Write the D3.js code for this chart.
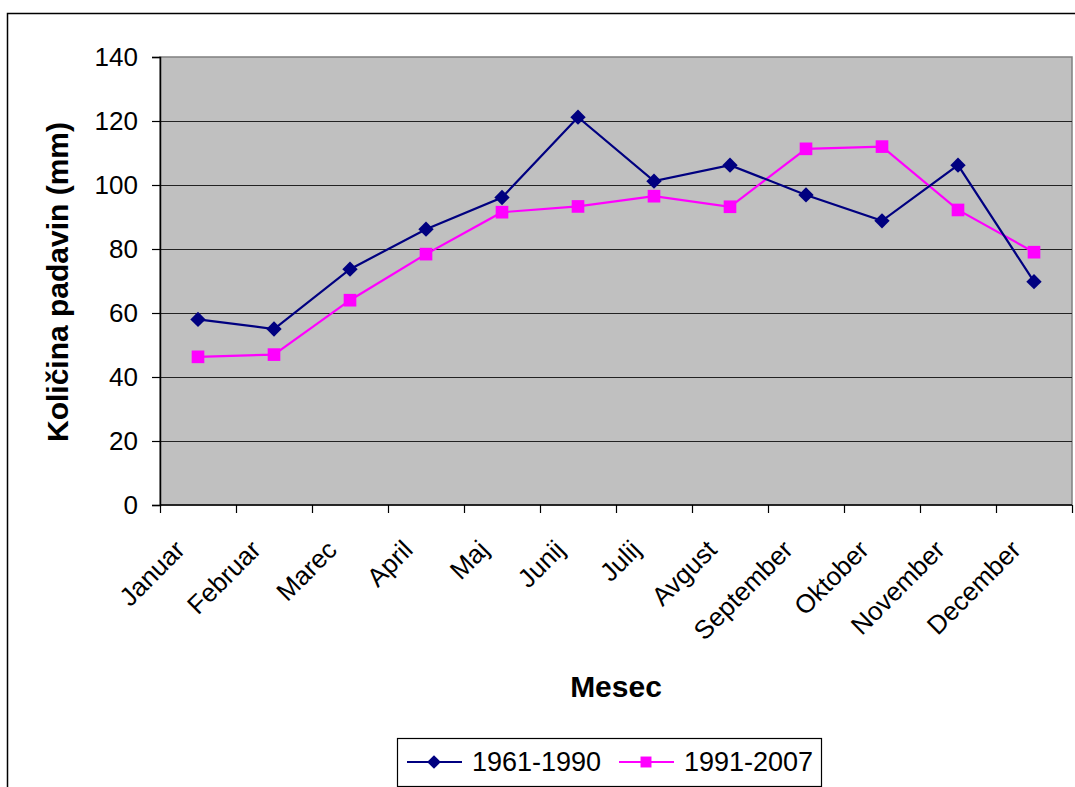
<!DOCTYPE html>
<html>
<head>
<meta charset="utf-8">
<script src="https://cdn.jsdelivr.net/npm/d3@7"></script>
<style>
  html, body { margin: 0; padding: 0; background: #fff; }
  svg { display: block; font-family: "Liberation Sans", Arial, sans-serif; }
</style>
</head>
<body>
<svg id="chart" width="1075" height="787"></svg>
<script>
// Monthly precipitation, two reference periods
const months = ["Januar", "Februar", "Marec", "April", "Maj", "Junij", "Julij",
                "Avgust", "September", "Oktober", "November", "December"];
const series1961 = [58, 55, 73.7, 86.2, 96.1, 121.2, 101.2, 106.2, 96.9, 88.8, 106.2, 69.8];
const series1991 = [46.3, 47, 64, 78.4, 91.5, 93.3, 96.5, 93.2, 111.3, 112, 92.2, 79];
const yTicks = [0, 20, 40, 60, 80, 100, 120, 140];
const seriesNames = ["1961-1990", "1991-2007"];

const svg = d3.select("#chart");
const plot = { left: 160, top: 57, right: 1072, bottom: 505 };
const labelSize = 26;
const titleSize = 30;

// outer chart frame
svg.append("rect")
  .attr("x", 7.5).attr("y", 13.5)
  .attr("width", 1100).attr("height", 800)
  .attr("fill", "#fff").attr("stroke", "#000").attr("stroke-width", 1.5);

const x = d3.scaleBand().domain(months).range([plot.left, plot.right]);
const y = d3.scaleLinear().domain([0, 140]).range([plot.bottom, plot.top]);

// plot background
svg.append("rect")
  .attr("x", plot.left).attr("y", plot.top)
  .attr("width", plot.right - plot.left).attr("height", plot.bottom - plot.top)
  .attr("fill", "#c0c0c0").attr("stroke", "#808080").attr("stroke-width", 1.5);

// horizontal gridlines
svg.append("g").selectAll("line")
  .data(yTicks.filter(d => d > 0 && d < 140))
  .join("line")
  .attr("x1", plot.left).attr("x2", plot.right)
  .attr("y1", d => Math.round(y(d)) + 0.5).attr("y2", d => Math.round(y(d)) + 0.5)
  .attr("stroke", "#222").attr("stroke-width", 1.2);

// y axis
const yAxis = svg.append("g")
  .attr("transform", `translate(${plot.left},0)`)
  .call(d3.axisLeft(y).tickValues(yTicks).tickSize(8).tickPadding(14));
yAxis.select(".domain").attr("stroke", "#000").attr("stroke-width", 1.5);
yAxis.selectAll(".tick line").attr("stroke", "#000").attr("stroke-width", 1.2);
yAxis.selectAll(".tick text")
  .attr("font-size", labelSize).attr("fill", "#000")
  .attr("font-family", "Liberation Sans, Arial, sans-serif");

// x axis: ticks sit on category boundaries
const xBoundaries = d3.range(months.length + 1).map(i => plot.left + i * x.bandwidth());
const xg = svg.append("g");
xg.append("line")
  .attr("x1", plot.left).attr("x2", plot.right)
  .attr("y1", plot.bottom).attr("y2", plot.bottom)
  .attr("stroke", "#000").attr("stroke-width", 1.5);
xg.selectAll("line.tick")
  .data(xBoundaries)
  .join("line").attr("class", "tick")
  .attr("x1", d => Math.round(d) + 0.5).attr("x2", d => Math.round(d) + 0.5)
  .attr("y1", plot.bottom).attr("y2", plot.bottom + 8)
  .attr("stroke", "#000").attr("stroke-width", 1.2);
xg.selectAll("text")
  .data(months)
  .join("text")
  .attr("transform", d => `translate(${x(d) + x.bandwidth() / 2 - 18},${plot.bottom + 40}) rotate(-45)`)
  .attr("text-anchor", "end")
  .attr("dy", "0.35em")
  .attr("font-size", labelSize)
  .attr("fill", "#000")
  .text(d => d);

// axis titles
svg.append("text")
  .attr("transform", `translate(68,282) rotate(-90)`)
  .attr("text-anchor", "middle")
  .attr("font-size", titleSize).attr("font-weight", "bold")
  .text("Količina padavin (mm)");
svg.append("text")
  .attr("x", 616).attr("y", 697)
  .attr("text-anchor", "middle")
  .attr("font-size", titleSize).attr("font-weight", "bold")
  .text("Mesec");

const cx = d => x(d) + x.bandwidth() / 2;
const line = d3.line().x(d => cx(d.m)).y(d => y(d.v));
const diamond = d3.symbol().type(d3.symbolDiamond2).size(150);
const square = d3.symbol().type(d3.symbolSquare).size(160);

const seriesDefs = [
  { name: seriesNames[0], values: series1961, color: "#000080", sym: diamond },
  { name: seriesNames[1], values: series1991, color: "#ff00ff", sym: square }
];

// second series is drawn first so the navy line sits on top
[seriesDefs[1], seriesDefs[0]].forEach(s => {
  const pts = months.map((m, i) => ({ m, v: s.values[i] }));
  svg.append("path")
    .datum(pts)
    .attr("d", line)
    .attr("fill", "none")
    .attr("stroke", s.color)
    .attr("stroke-width", 2.2);
  svg.append("g").selectAll("path")
    .data(pts)
    .join("path")
    .attr("d", s.sym)
    .attr("transform", d => `translate(${cx(d.m)},${y(d.v)})`)
    .attr("fill", s.color);
});

// legend
const lg = svg.append("g");
lg.append("rect")
  .attr("x", 397.5).attr("y", 738.5).attr("width", 424).attr("height", 48)
  .attr("fill", "#fff").attr("stroke", "#000").attr("stroke-width", 1.2);
const legendItems = [
  { s: seriesDefs[0], x0: 407, tx: 472 },
  { s: seriesDefs[1], x0: 619, tx: 684 }
];
legendItems.forEach(it => {
  lg.append("line")
    .attr("x1", it.x0).attr("x2", it.x0 + 55)
    .attr("y1", 762).attr("y2", 762)
    .attr("stroke", it.s.color).attr("stroke-width", 2.2);
  lg.append("path")
    .attr("d", it.s.sym.size(120)())
    .attr("transform", `translate(${it.x0 + 27},762)`)
    .attr("fill", it.s.color);
  lg.append("text")
    .attr("x", it.tx).attr("y", 771)
    .attr("font-size", 27)
    .attr("fill", "#000")
    .text(it.s.name);
});
</script>
</body>
</html>
